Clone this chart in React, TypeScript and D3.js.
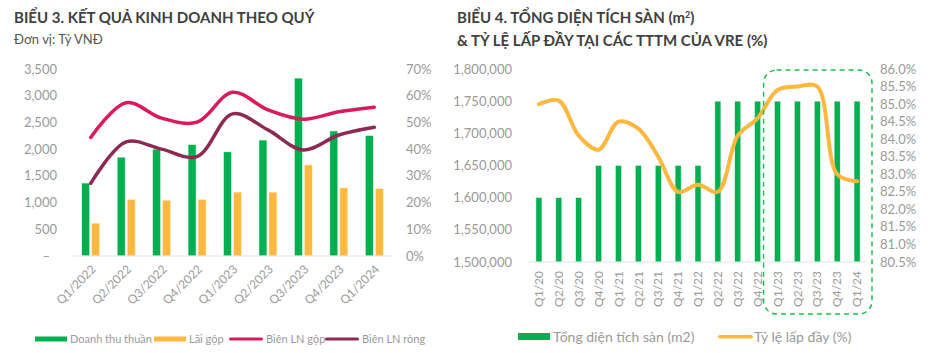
import { useEffect, useRef } from "react"
import * as d3 from "d3"

// Biểu 3 - kết quả kinh doanh theo quý (tỷ VNĐ, %)
const QUARTERS = ["Q1/2022", "Q2/2022", "Q3/2022", "Q4/2022", "Q1/2023", "Q2/2023", "Q3/2023", "Q4/2023", "Q1/2024"]
const REVENUE = [1365, 1850, 2000, 2085, 1950, 2170, 3330, 2340, 2255]
const GROSS_PROFIT = [615, 1060, 1045, 1060, 1195, 1195, 1705, 1275, 1260]
const GROSS_MARGIN = [44.4, 57.4, 51.6, 50.1, 61.3, 54.7, 51.2, 54.0, 55.7]
const NET_MARGIN = [27.2, 42.7, 40.0, 37.2, 53.2, 47.2, 39.7, 45.3, 48.2]
const LEFT_TICKS = [0, 500, 1000, 1500, 2000, 2500, 3000, 3500]
const PCT_TICKS = [0, 10, 20, 30, 40, 50, 60, 70]

// Biểu 4 - diện tích sàn & tỷ lệ lấp đầy
const PERIODS = ["Q1/20", "Q2/20", "Q3/20", "Q4/20", "Q1/21", "Q2/21", "Q3/21", "Q4/21", "Q1/22", "Q2/22", "Q3/22", "Q4/22", "Q1/23", "Q2/23", "Q3/23", "Q4/23", "Q1/24"]
const FLOOR_AREA = [1600000, 1600000, 1600000, 1650000, 1650000, 1650000, 1650000, 1650000, 1650000, 1750000, 1750000, 1750000, 1750000, 1750000, 1750000, 1750000, 1750000]
const OCCUPANCY = [85.0, 85.1, 84.1, 83.7, 84.5, 84.3, 83.5, 82.5, 82.7, 82.5, 84.1, 84.6, 85.4, 85.5, 85.5, 83.0, 82.8]
const AREA_TICKS = [1500000, 1550000, 1600000, 1650000, 1700000, 1750000, 1800000]
const OCC_TICKS = [80.5, 81, 81.5, 82, 82.5, 83, 83.5, 84, 84.5, 85, 85.5, 86]

const GREEN = "#00b050"
const ORANGE = "#ffb83f"
const CRIMSON = "#da1a5a"
const MAROON = "#8e2a52"
const TICK = "#9a9a9a"
const TITLE = "#404040"
const FONT = "Lato, 'Noto Sans', sans-serif"

export default function App() {
  const ref = useRef<SVGSVGElement>(null)

  useEffect(() => {
    if (!ref.current) return
    const svg = d3.select(ref.current)
    svg.selectAll("*").remove()
    svg.attr("font-family", FONT)

    // ---------- left chart ----------
    const L = svg.append("g")
    L.append("text").attr("x", 14).attr("y", 23).attr("font-size", 15).attr("font-weight", 700)
      .attr("fill", TITLE).text("BIỂU 3. KẾT QUẢ KINH DOANH THEO QUÝ")
    L.append("text").attr("x", 14).attr("y", 44).attr("font-size", 13)
      .attr("fill", "#555").text("Đơn vị: Tỷ VNĐ")

    const x = d3.scaleBand().domain(QUARTERS).range([73, 392])
    const y = d3.scaleLinear().domain([0, 3500]).range([256, 69])
    const yp = d3.scaleLinear().domain([0, 70]).range([256, 69])

    L.selectAll(".yl").data(LEFT_TICKS).join("text")
      .attr("x", (d) => (d === 0 ? 50 : 57)).attr("y", (d) => y(d)).attr("dy", "0.35em")
      .attr("text-anchor", "end").attr("font-size", 13).attr("fill", TICK)
      .text((d) => (d === 0 ? "–" : d3.format(",")(d)))
    L.selectAll(".yr").data(PCT_TICKS).join("text")
      .attr("x", 406).attr("y", (d) => yp(d)).attr("dy", "0.35em")
      .attr("font-size", 13).attr("fill", TICK).text((d) => `${d}%`)

    const bw = 8
    L.selectAll(".rev").data(REVENUE).join("rect")
      .attr("x", (_, i) => x(QUARTERS[i])! + x.bandwidth() / 2 - bw - 1)
      .attr("y", (d) => y(d)).attr("width", bw).attr("height", (d) => y(0) - y(d))
      .attr("fill", GREEN).attr("stroke", "#e6f5ea").attr("stroke-width", 0.6)
    L.selectAll(".gp").data(GROSS_PROFIT).join("rect")
      .attr("x", (_, i) => x(QUARTERS[i])! + x.bandwidth() / 2 + 1)
      .attr("y", (d) => y(d)).attr("width", bw).attr("height", (d) => y(0) - y(d))
      .attr("fill", ORANGE).attr("stroke", "#fff3dc").attr("stroke-width", 0.6)

    L.append("line").attr("x1", 73).attr("x2", 392).attr("y1", 256).attr("y2", 256)
      .attr("stroke", "#e3e3e3").attr("stroke-width", 1)

    const lineL = d3.line<number>()
      .x((_, i) => x(QUARTERS[i])! + x.bandwidth() / 2)
      .y((d) => yp(d))
      .curve(d3.curveCatmullRom.alpha(0.5))
    L.append("path").attr("d", lineL(GROSS_MARGIN)).attr("fill", "none")
      .attr("stroke", CRIMSON).attr("stroke-width", 3.5).attr("stroke-linecap", "round")
    L.append("path").attr("d", lineL(NET_MARGIN)).attr("fill", "none")
      .attr("stroke", MAROON).attr("stroke-width", 3.5).attr("stroke-linecap", "round")

    L.selectAll(".xl").data(QUARTERS).join("text")
      .attr("transform", (d) => `translate(${x(d)! + x.bandwidth() / 2 + 3},${267}) rotate(-45)`)
      .attr("dy", "0.35em").attr("text-anchor", "end").attr("font-size", 12).attr("fill", TICK)
      .text((d) => d)

    const legL = [
      { label: "Doanh thu thuần", color: GREEN, x: 35, w: 32, h: 5 },
      { label: "Lãi gộp", color: ORANGE, x: 154, w: 32, h: 5 },
      { label: "Biên LN gộp", color: CRIMSON, x: 229, w: 34, h: 3 },
      { label: "Biên LN ròng", color: MAROON, x: 325, w: 34, h: 3 },
    ]
    legL.forEach((d) => {
      L.append("rect").attr("x", d.x).attr("y", 339 - d.h / 2).attr("width", d.w).attr("height", d.h)
        .attr("rx", d.h === 3 ? 1.5 : 0).attr("fill", d.color)
      L.append("text").attr("x", d.x + d.w + 3).attr("y", 339).attr("dy", "0.35em")
        .attr("font-size", 11).attr("fill", TICK).text(d.label)
    })

    // ---------- right chart ----------
    const R = svg.append("g")
    const t1 = R.append("text").attr("x", 457).attr("y", 23).attr("font-size", 15).attr("font-weight", 700).attr("fill", TITLE)
    t1.append("tspan").text("BIỂU 4. TỔNG DIỆN TÍCH SÀN  (m")
    t1.append("tspan").attr("font-size", 9).attr("dy", -5).text("2")
    t1.append("tspan").attr("dy", 5).text(")")
    R.append("text").attr("x", 457).attr("y", 46).attr("font-size", 15).attr("font-weight", 700)
      .attr("fill", TITLE).text("& TỶ LỆ LẤP ĐẦY TẠI CÁC TTTM CỦA VRE (%)")

    const x2 = d3.scaleBand().domain(PERIODS).range([529, 867])
    const ya = d3.scaleLinear().domain([1500000, 1800000]).range([262, 69])
    const yo = d3.scaleLinear().domain([80.5, 86]).range([262, 69])
    const cx = (d: string) => x2(d)! + x2.bandwidth() / 2

    R.selectAll(".al").data(AREA_TICKS).join("text")
      .attr("x", 512).attr("y", (d) => ya(d)).attr("dy", "0.35em").attr("text-anchor", "end")
      .attr("font-size", 13).attr("fill", TICK).text((d) => d3.format(",")(d))
    R.selectAll(".ol").data(OCC_TICKS).join("text")
      .attr("x", 880).attr("y", (d) => yo(d)).attr("dy", "0.35em")
      .attr("font-size", 13).attr("fill", TICK).text((d) => `${d.toFixed(1)}%`)

    R.selectAll(".area").data(FLOOR_AREA).join("rect")
      .attr("x", (_, i) => cx(PERIODS[i]) - 3).attr("y", (d) => ya(d))
      .attr("width", 6).attr("height", (d) => ya(1500000) - ya(d))
      .attr("fill", GREEN).attr("stroke", "#e6f5ea").attr("stroke-width", 0.5)

    R.append("line").attr("x1", 529).attr("x2", 867).attr("y1", 262).attr("y2", 262)
      .attr("stroke", "#e3e3e3")

    const lineR = d3.line<number>()
      .x((_, i) => cx(PERIODS[i]))
      .y((d) => yo(d))
      .curve(d3.curveCatmullRom.alpha(0.5))
    R.append("path").attr("d", lineR(OCCUPANCY)).attr("fill", "none")
      .attr("stroke", ORANGE).attr("stroke-width", 4).attr("stroke-linecap", "round")

    R.selectAll(".pl").data(PERIODS).join("text")
      .attr("transform", (d) => `translate(${cx(d)},${271}) rotate(-90)`)
      .attr("dy", "0.35em").attr("text-anchor", "end").attr("font-size", 12).attr("fill", TICK)
      .text((d) => d)

    // highlight box around Q1/23 - Q1/24
    const bx0 = x2("Q1/23")! - 4
    const bx1 = 872
    R.append("rect").attr("x", bx0).attr("y", 70).attr("width", bx1 - bx0).attr("height", 244)
      .attr("rx", 13).attr("fill", "none").attr("stroke", "#1fbf50").attr("stroke-width", 1.5)
      .attr("stroke-dasharray", "5,4")

    R.append("rect").attr("x", 518).attr("y", 333).attr("width", 32).attr("height", 7).attr("fill", GREEN)
    R.append("text").attr("x", 553).attr("y", 337).attr("dy", "0.35em").attr("font-size", 14)
      .attr("fill", TICK).text("Tổng diện tích sàn (m2)")
    R.append("rect").attr("x", 718).attr("y", 335).attr("width", 35).attr("height", 3.5).attr("rx", 1.75).attr("fill", ORANGE)
    R.append("text").attr("x", 754).attr("y", 337).attr("dy", "0.35em").attr("font-size", 14)
      .attr("fill", TICK).text("Tỷ lệ lấp đầy (%)")
  }, [])

  return (
    <svg
      ref={ref}
      width={938}
      height={353}
      style={{ position: "absolute", left: 0, top: 0, background: "#fff" }}
    />
  )
}
